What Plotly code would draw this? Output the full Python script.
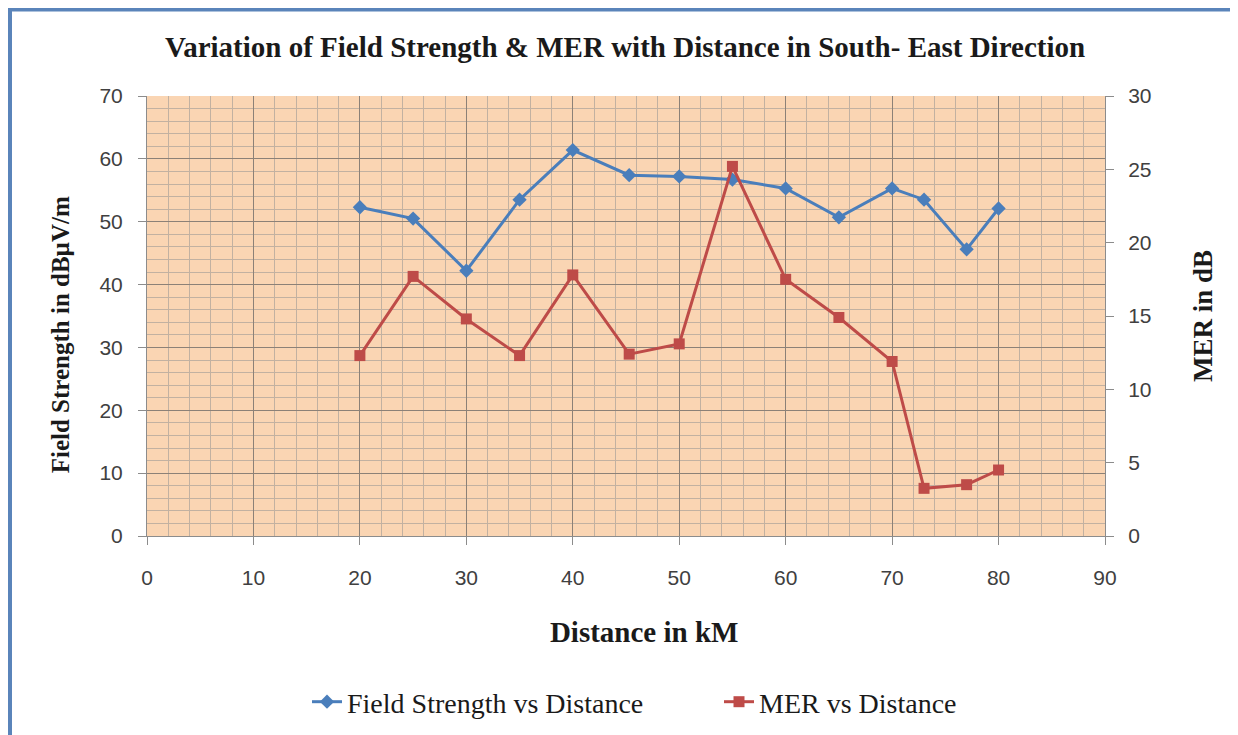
import plotly.graph_objects as go

distance_km = [20, 25, 30, 35, 40, 45.3, 50, 55, 60, 65, 70, 73, 77, 80]
field_strength = [52.3, 50.5, 42.2, 53.5, 61.4, 57.4, 57.2, 56.7, 55.3, 50.7, 55.3, 53.5, 45.6, 52.1]
mer_db = [12.3, 17.7, 14.8, 12.3, 17.8, 12.4, 13.1, 25.2, 17.5, 14.9, 11.9, 3.25, 3.5, 4.5]

title_text = "Variation of Field Strength & MER with Distance in South- East Direction"
x_title = "Distance in kM"
y1_title = "Field Strength in dBµV/m"
y2_title = "MER in dB"
name_fs = "Field Strength vs Distance"
name_mer = "MER vs Distance"

serif = "Liberation Serif"
sans = "Liberation Sans"
NB = "\u00a0"

# page body has an 8px margin: plot area targeted at x 147..1105, y 96..536 on screen
W, H = 1230, 727
OFF = 8
PX0, PX1, PY0, PY1 = 147, 1105, 96, 536


def px(xs):
    return (xs - PX0) / (PX1 - PX0)


def py(ys):
    return (PY1 - ys) / (PY1 - PY0)


fig = go.Figure()
fig.add_trace(go.Scatter(
    x=distance_km, y=field_strength, name=name_fs, mode="lines+markers",
    line=dict(color="#4A7EBB", width=3),
    marker=dict(symbol="diamond", size=11, color="#4A7EBB"),
    yaxis="y",
))
fig.add_trace(go.Scatter(
    x=distance_km, y=mer_db, name=name_mer, mode="lines+markers",
    line=dict(color="#BE4B48", width=3),
    marker=dict(symbol="square", size=11, color="#BE4B48"),
    yaxis="y2",
))

major_grid = "#8c8177"
minor_grid = "#c2b1a1"
axis_col = "#8c8c8c"
tick_font = dict(family=sans, size=21, color="#404040")
txt_col = "#1a1a1a"
frame_col = "#5A84BA"

fig.update_layout(
    width=W, height=H,
    margin=dict(l=PX0 - OFF, r=W - (PX1 - OFF), t=PY0 - OFF, b=H - (PY1 - OFF),
                autoexpand=False),
    paper_bgcolor="white",
    plot_bgcolor="#FAD5B3",
    showlegend=True,
    title=dict(text="<b>" + title_text + "</b>", x=(625 - OFF) / W, xanchor="center",
               y=1 - (47 - OFF) / H, yanchor="middle",
               font=dict(family=serif, size=29, color=txt_col)),
    xaxis=dict(
        range=[0, 90], dtick=10, tick0=0, automargin=False,
        showgrid=True, gridcolor=major_grid, gridwidth=1,
        minor=dict(dtick=2, showgrid=True, gridcolor=minor_grid, gridwidth=1, ticks=""),
        showline=True, linecolor=axis_col, linewidth=1,
        ticks="outside", ticklen=8, tickcolor=axis_col,
        ticklabelstandoff=15,
        tickfont=tick_font,
        zeroline=False,
        title=dict(text="<b>" + NB * 5 + x_title + "</b>", standoff=33,
                   font=dict(family=serif, size=29, color=txt_col)),
    ),
    yaxis=dict(
        range=[0, 70], dtick=10, tick0=0, automargin=False,
        showgrid=True, gridcolor=major_grid, gridwidth=1,
        minor=dict(dtick=2, showgrid=True, gridcolor=minor_grid, gridwidth=1, ticks=""),
        showline=True, linecolor=axis_col, linewidth=1,
        ticks="outside", ticklen=8, tickcolor=axis_col,
        ticklabelstandoff=11,
        tickfont=tick_font,
        zeroline=False,
        title=dict(text="<b>" + y1_title + NB * 6 + "</b>", standoff=22,
                   font=dict(family=serif, size=25, color=txt_col)),
    ),
    yaxis2=dict(
        range=[0, 30], dtick=5, tick0=0, automargin=False,
        overlaying="y", side="right",
        showgrid=False,
        showline=True, linecolor=axis_col, linewidth=1,
        ticks="outside", ticklen=8, tickcolor=axis_col,
        ticklabelstandoff=10,
        tickfont=tick_font,
        zeroline=False,
        title=dict(text="<b>" + y2_title + "</b>", standoff=42,
                   font=dict(family=serif, size=27, color=txt_col)),
    ),
    legend=dict(
        orientation="h", x=px(307), xanchor="left",
        y=py(702), yanchor="middle",
        font=dict(family=serif, size=28, color=txt_col),
        bgcolor="rgba(0,0,0,0)",
        entrywidth=367, entrywidthmode="pixels",
        traceorder="normal",
    ),
    shapes=[
        dict(type="line", xref="paper", yref="paper",
             x0=px(8), x1=px(1240), y0=py(9.5), y1=py(9.5),
             line=dict(color=frame_col, width=4), layer="below"),
        dict(type="line", xref="paper", yref="paper",
             x0=px(10), x1=px(10), y0=py(9.5), y1=py(740),
             line=dict(color=frame_col, width=4), layer="below"),
    ],
)

fig.write_html("out.html")
